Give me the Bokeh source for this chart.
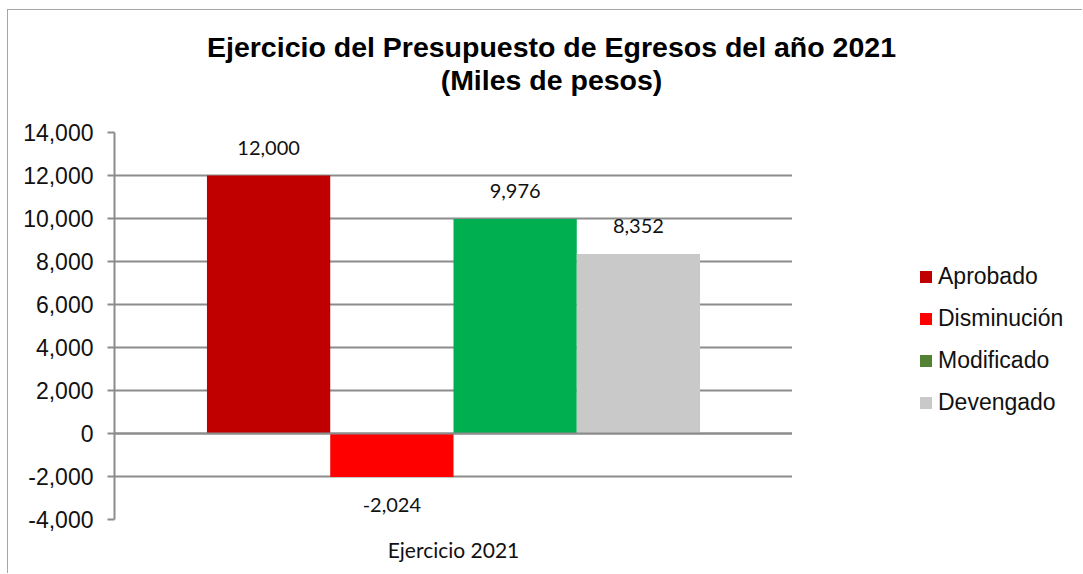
from bokeh.plotting import figure
from bokeh.layouts import column, row
from bokeh.models import (ColumnDataSource, Range1d, FixedTicker, NumeralTickFormatter,
                          LabelSet, Label, Legend, LegendItem, Span)
from bokeh.core.properties import value
from bokeh.embed import file_html
from bokeh.resources import INLINE

# ---------------- data ----------------
title_lines = ["Ejercicio del Presupuesto de Egresos del año 2021", "(Miles de pesos)"]
category = "Ejercicio 2021"
series = ["Aprobado", "Disminución", "Modificado", "Devengado"]
values = [12000, -2024, 9976, 8352]
bar_colors = ["#C00000", "#FF0000", "#00B050", "#C9C9C9"]
legend_colors = ["#C00000", "#FF0000", "#548235", "#C9C9C9"]
y_ticks = [-4000, -2000, 0, 2000, 4000, 6000, 8000, 10000, 12000, 14000]

# ---------------- helpers ----------------
GAP = 1.5                      # Excel gap width 150 % (in bar widths)
n = len(series)
group_w = n + GAP
xs = [GAP / 2 + 0.5 + i for i in range(n)]
cat_center = group_w / 2
GRID = "#8c8c8c"
TXT = "#111111"
NAN = float("nan")


def blank(fig):
    fig.outline_line_color = None
    fig.xgrid.grid_line_color = None
    fig.ygrid.grid_line_color = None
    fig.background_fill_color = "white"
    fig.border_fill_color = "white"
    return fig


# ---------------- title strip ----------------
title_fig = blank(figure(width=1075, height=105, x_range=Range1d(0, 1075), y_range=Range1d(0, 105),
                         output_backend="svg", toolbar_location=None,
                         x_axis_location=None, y_axis_location=None, min_border=0))
for txt, ty in zip(title_lines, [69, 36]):
    title_fig.add_layout(Label(x=543, y=ty, text=txt, text_align="center", text_baseline="middle",
                               text_font="Liberation Sans", text_font_style="bold",
                               text_font_size="28.5px", text_color="black"))

# ---------------- main chart ----------------
p = figure(width=784, height=459,
           x_range=Range1d(0, group_w), y_range=Range1d(y_ticks[0], y_ticks[-1]),
           output_backend="svg", toolbar_location=None,
           min_border_left=106, min_border_right=0,
           min_border_top=17, min_border_bottom=55)
p.outline_line_color = None
p.background_fill_color = "white"
p.border_fill_color = "white"

p.yaxis.ticker = FixedTicker(ticks=y_ticks)
p.yaxis.formatter = NumeralTickFormatter(format="0,0")
p.yaxis.axis_line_color = GRID
p.yaxis.axis_line_width = 2
p.yaxis.major_tick_line_color = GRID
p.yaxis.major_tick_line_width = 2
p.yaxis.major_tick_out = 7
p.yaxis.major_tick_in = 0
p.yaxis.minor_tick_line_color = None
p.yaxis.major_label_text_font = "Liberation Sans"
p.yaxis.major_label_text_font_size = "23px"
p.yaxis.major_label_text_color = TXT
p.yaxis.major_label_standoff = 14

p.xaxis.ticker = FixedTicker(ticks=[cat_center])
p.xaxis.major_label_overrides = {cat_center: category}
p.xaxis.axis_line_color = None
p.xaxis.major_tick_line_color = None
p.xaxis.minor_tick_line_color = None
p.xaxis.major_label_text_font = "Lato"
p.xaxis.major_label_text_font_size = "21px"
p.xaxis.major_label_text_color = TXT
p.xaxis.major_label_standoff = 11

p.xgrid.grid_line_color = None
p.ygrid.ticker = FixedTicker(ticks=y_ticks)
p.ygrid.grid_line_color = GRID
p.ygrid.grid_line_width = 2

src = ColumnDataSource(dict(
    x=xs, v=values, c=bar_colors,
    txt=[f"{v:,}" for v in values],
    off=[28 if v >= 0 else -28 for v in values],
))
p.vbar(x="x", top="v", bottom=0, width=1, fill_color="c", line_color=None, source=src)
p.add_layout(Span(location=0, dimension="width", line_color=GRID, line_width=2))
p.add_layout(LabelSet(x="x", y="v", text="txt", y_offset="off", source=src,
                      text_align="center", text_baseline="middle",
                      text_font=value("Lato"), text_font_size="20px", text_color=TXT))

# ---------------- legend strip ----------------
leg_fig = blank(figure(width=291, height=459, x_range=Range1d(0, 1), y_range=Range1d(0, 1),
                       output_backend="svg", toolbar_location=None,
                       x_axis_location=None, y_axis_location=None, min_border=0))
items = []
for name, col in zip(series, legend_colors):
    r = leg_fig.vbar(x=[NAN], top=[NAN], width=1, fill_color=col, line_color=None)
    items.append(LegendItem(label=name, renderers=[r]))
legend = Legend(items=items, location=(126, 103), orientation="vertical",
                padding=0, margin=0, spacing=15,
                glyph_width=15, glyph_height=15, label_standoff=5,
                label_text_font="Liberation Sans", label_text_font_size="23px",
                label_text_color=TXT,
                border_line_color=None, background_fill_alpha=0)
leg_fig.add_layout(legend)

layout = column(title_fig, row(p, leg_fig, spacing=0), spacing=0)
layout.margin = (10, 0, 0, 8)
layout.styles = {"box-shadow": "-1px -1px 0 0 #a6a6a6"}

open("out.html", "w").write(file_html(layout, INLINE))
